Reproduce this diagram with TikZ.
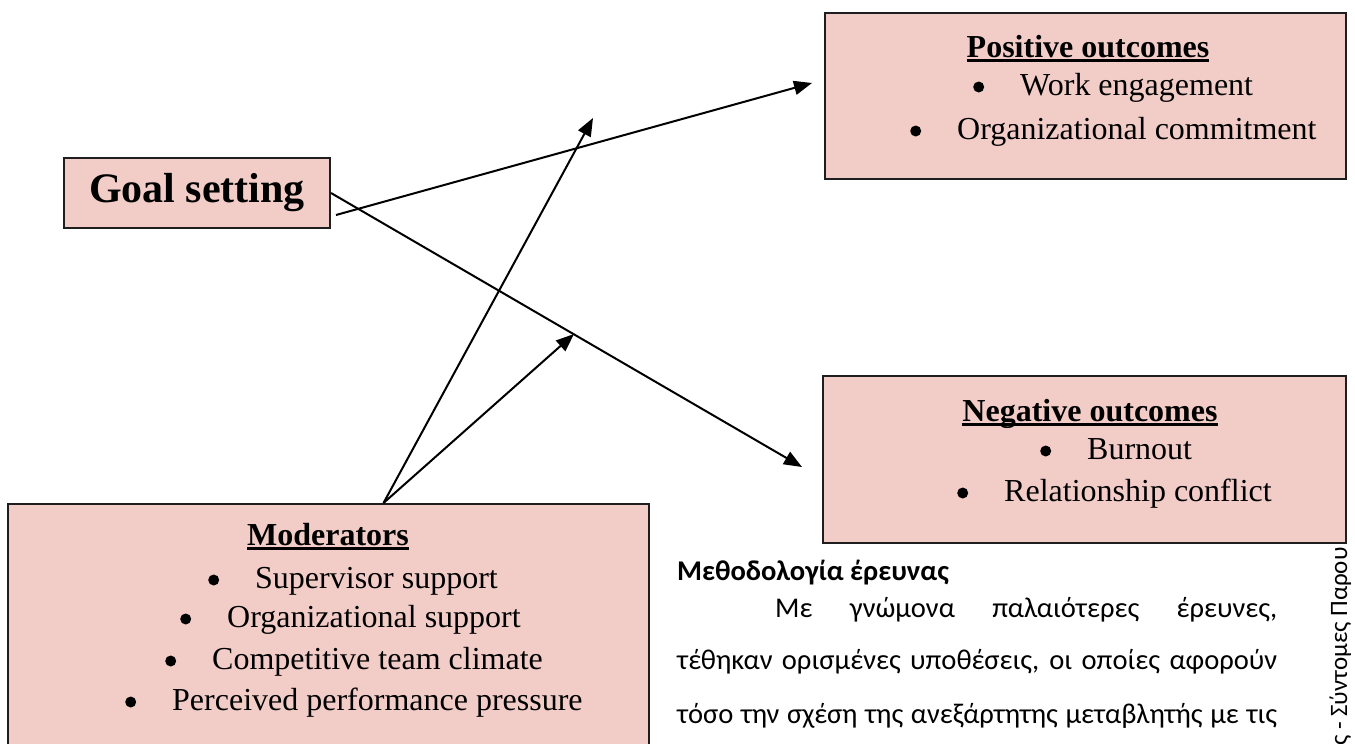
\documentclass[tikz,border=0pt]{standalone}
\usepackage{fontspec}
\setmainfont{Liberation Serif}
\newfontfamily\grk{Carlito}
\usetikzlibrary{arrows.meta}
\definecolor{boxpink}{HTML}{F2CDC8}
\definecolor{boxline}{HTML}{1E1E1E}
\newlength\fitw
\tikzset{
  panel/.style={draw=boxline, line width=2pt, fill=boxpink, inner sep=0pt, anchor=north west},
  head/.style={font=\fontsize{32}{38}\selectfont\bfseries, anchor=base, inner sep=0pt},
  item/.style={font=\fontsize{32}{38}\selectfont, anchor=base west, inner sep=0pt},
  link/.style={line width=2pt, draw=black, -{Triangle[length=18pt,width=14pt]}},
}
% round list bullet followed by a fixed tab
\newcommand{\bul}{\makebox[47pt][l]{\tikz[x=1pt,y=1pt,baseline=-8pt]\fill (5.5,0) circle[radius=5.5pt];}}
% heading underline, heavier than \underline
\newcommand{\hdul}[1]{\setbox0\hbox{#1}\rlap{\vrule height -2pt depth 5pt width \wd0}\box0}
\begin{document}
% body text size chosen so that the last line fills the column naturally
\settowidth\fitw{\grk\fontsize{10}{12}\selectfont τόσο την σχέση της ανεξάρτητης μεταβλητής με τις}
\pgfmathsetmacro\bodysize{10*592/\fitw}
\begin{tikzpicture}[x=1pt,y=-1pt,
  body/.style={font=\grk\fontsize{\bodysize}{28}\selectfont, anchor=base west, inner sep=0pt}]
\useasboundingbox (0,0) rectangle (1355,744);
\clip (0,0) rectangle (1355,744);
\fill[white] (0,0) rectangle (1355,744);

% running footer, set vertically along the page edge
\node[font=\grk\fontsize{25}{28}\selectfont, rotate=90, anchor=base west, inner sep=0pt] (foot) at (1347,746) {ς - Σύντομες Παρου};

% boxes
\node[panel, minimum width=521pt, minimum height=166pt] (pos) at (824,12) {};
\node[panel, minimum width=523pt, minimum height=167pt] (neg) at (822,375) {};
\node[panel, minimum width=641pt, minimum height=300pt] (mod) at (7,503) {};
\node[draw=boxline, line width=2pt, fill=boxpink, minimum width=266pt, minimum height=70pt,
      inner sep=0pt, font=\fontsize{42}{50}\selectfont\bfseries] (goal) at (197,193) {Goal setting};

% positive outcomes
\node[head] (posh) at (1088,57) {\hdul{Positive outcomes}};
\node[item] (pos1) at (973,95) {\bul Work engagement};
\node[item] (pos2) at (910,139) {\bul Organizational commitment};

% negative outcomes
\node[head] (negh) at (1090,421) {\hdul{Negative outcomes}};
\node[item] (neg1) at (1040,459) {\bul Burnout};
\node[item] (neg2) at (957,501) {\bul Relationship conflict};

% moderators
\node[head] (modh) at (328,545) {\hdul{Moderators}};
\node[item] (mod1) at (208,588) {\bul Supervisor support};
\node[item] (mod2) at (180,627) {\bul Organizational support};
\node[item] (mod3) at (165,669) {\bul Competitive team climate};
\node[item] (mod4) at (125,710) {\bul Perceived performance pressure};

% connector end points
\coordinate (gsup) at (336,215);
\coordinate (tipPos) at (812,83);
\coordinate (tipNeg) at (802,467);
\coordinate (tipUp) at (593,118);
\coordinate (tipMid) at (574,334);

\draw[link] (gsup) -- (tipPos);
\draw[link] (goal.east) -- (tipNeg);
\draw[link] ([xshift=55pt]mod.north) -- (tipUp);
\draw[link] ([xshift=55pt]mod.north) -- (tipMid);

% body text
\node[body, font=\grk\fontsize{\bodysize}{28}\selectfont\bfseries] (t0) at (677,580) {Μεθοδολογία έρευνας};
\node[body] (t1) at (775,617) {\makebox[502pt][s]{Με γνώμονα παλαιότερες έρευνες,}};
\node[body] (t2) at (677,669) {\makebox[600pt][s]{τέθηκαν ορισμένες υποθέσεις, οι οποίες αφορούν}};
\node[body] (t3) at (677,723) {\makebox[600pt][s]{τόσο την σχέση της ανεξάρτητης μεταβλητής με τις}};
\end{tikzpicture}
\end{document}
